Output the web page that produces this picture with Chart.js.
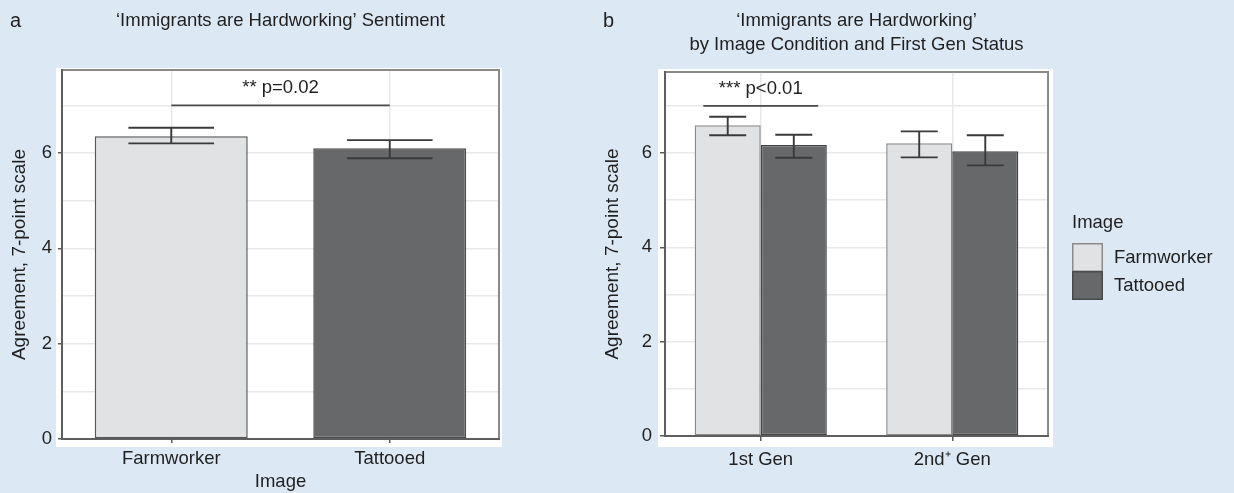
<!DOCTYPE html>
<html>
<head>
<meta charset="utf-8">
<script src="https://cdn.jsdelivr.net/npm/chart.js@4.4.1/dist/chart.umd.min.js"></script>
<style>
  html, body { margin: 0; padding: 0; background: #dde8f5; }
  body { width: 1234px; height: 493px; position: relative; overflow: hidden; }
  .panel { position: absolute; top: 0; height: 493px; }
  #wrapA { left: 0; width: 590px; }
  #wrapB { left: 590px; width: 644px; }
  canvas { display: block; }
</style>
</head>
<body>
<div class="panel" id="wrapA"><canvas id="chartA" width="590" height="493"></canvas></div>
<div class="panel" id="wrapB"><canvas id="chartB" width="644" height="493"></canvas></div>
<script>
// Panel a: overall sentiment by image
const imageCategories = ['Farmworker', 'Tattooed'];
const overallMeans = [6.35, 6.10];
const overallLow = [6.20, 5.89];
const overallHigh = [6.53, 6.27];

// Panel b: sentiment by image condition and generation
const genCategories = ['1st Gen', '2nd\u207A Gen'];
const farmworkerMeans = [6.59, 6.21];
const farmworkerLow = [6.38, 5.91];
const farmworkerHigh = [6.77, 6.46];
const tattooedMeans = [6.17, 6.04];
const tattooedLow = [5.90, 5.74];
const tattooedHigh = [6.39, 6.38];

// Labelled y ticks (the odd values only carry minor grid lines)
const yTickValues = [0, 2, 4, 6];

// Significance brackets: [from index, to index, bracket level, label]
const sigA = [0, 1, 7.0, '** p=0.02'];
const sigB = [-0.3, 0.3, 7.0, '*** p<0.01'];

const FONT = "'Liberation Sans', Arial, Helvetica, sans-serif";
const FS = 18.5;
const LIGHT = '#e1e2e4';
const DARK = '#67686a';
const TEXT = '#1f1f1f';

// White panel, frame, error bars, brackets, titles and legend
const decor = {
  id: 'decor',
  beforeDraw(chart, args, o) {
    const { ctx, chartArea: a } = chart;
    ctx.save();
    ctx.fillStyle = '#ffffff';
    ctx.fillRect(a.left - o.pad[0], a.top - o.pad[1], a.right - a.left + o.pad[0] + o.pad[2], a.bottom - a.top + o.pad[1] + o.pad[3]);
    ctx.restore();
  },
  afterDatasetsDraw(chart, args, o) {
    const { ctx } = chart;
    const y = chart.scales.y;
    ctx.save();
    ctx.strokeStyle = '#3a3a3a';
    ctx.lineWidth = 1.9;
    chart.data.datasets.forEach((ds, i) => {
      const meta = chart.getDatasetMeta(i);
      meta.data.forEach((bar, j) => {
        const hi = y.getPixelForValue(ds.errHigh[j]);
        const lo = y.getPixelForValue(ds.errLow[j]);
        const half = bar.width * 0.28;
        ctx.beginPath();
        ctx.moveTo(bar.x, hi); ctx.lineTo(bar.x, lo);
        ctx.moveTo(bar.x - half, hi); ctx.lineTo(bar.x + half, hi);
        ctx.moveTo(bar.x - half, lo); ctx.lineTo(bar.x + half, lo);
        ctx.stroke();
      });
    });
    ctx.restore();
  },
  afterDraw(chart, args, o) {
    const { ctx, chartArea: a } = chart;
    const x = chart.scales.x, y = chart.scales.y;
    ctx.save();
    // frame
    ctx.strokeStyle = '#8a8a8a';
    ctx.lineWidth = 2;
    ctx.strokeRect(a.left, a.top, a.right - a.left, a.bottom - a.top);
    ctx.strokeStyle = '#5e5e5e';
    ctx.beginPath();
    ctx.moveTo(a.left, a.top - 1); ctx.lineTo(a.left, a.bottom); ctx.lineTo(a.right + 1, a.bottom);
    ctx.stroke();

    // significance bracket
    const s = o.sig;
    const x0 = x.getPixelForValue(s[0]);
    const x1 = x.getPixelForValue(s[1]);
    const yl = y.getPixelForValue(s[2]);
    ctx.strokeStyle = '#4a4a4a';
    ctx.lineWidth = 1.8;
    ctx.beginPath();
    ctx.moveTo(x0, yl); ctx.lineTo(x1, yl);
    ctx.stroke();
    ctx.fillStyle = TEXT;
    ctx.font = FS + 'px ' + FONT;
    ctx.textAlign = 'center';
    ctx.textBaseline = 'middle';
    ctx.fillText(s[3], (x0 + x1) / 2, yl - 17);

    // titles
    const cx = (a.left + a.right) / 2;
    o.title.forEach((t, k) => ctx.fillText(t, cx, 21 + k * 24));
    ctx.font = '20px ' + FONT;
    ctx.textAlign = 'left';
    ctx.fillText(o.letter, o.letterX, 21);

    // legend
    if (o.legend) {
      const lx = a.right + 24;
      ctx.font = FS + 'px ' + FONT;
      ctx.fillStyle = TEXT;
      ctx.fillText('Image', lx, 223);
      const boxTop = [243, 271];
      chart.data.datasets.forEach((ds, i) => {
        ctx.fillStyle = ds.backgroundColor;
        ctx.fillRect(lx, boxTop[i], 31, 29);
        ctx.strokeStyle = i === 0 ? '#8a8a8a' : '#4a4a4a';
        ctx.lineWidth = 1.5;
        ctx.strokeRect(lx + 0.75, boxTop[i] + 0.75, 29.5, 27.5);
        ctx.fillStyle = TEXT;
        ctx.fillText(ds.label, lx + 42, boxTop[i] + 15);
      });
    }
    ctx.restore();
  }
};

function yScale(max, width, tickLen, pad, titlePad) {
  return {
    min: 0,
    max: max,
    afterFit(s) { s.width = width; },
    border: { display: false },
    grid: {
      color: '#e8e8e8',
      lineWidth: 1.5,
      tickLength: tickLen,
      tickColor: ctx => yTickValues.includes(ctx.tick.value) ? '#5a5a5a' : 'rgba(0,0,0,0)',
      tickWidth: 1.5
    },
    ticks: {
      stepSize: 1,
      includeBounds: false,
      padding: pad,
      color: TEXT,
      font: { family: FONT, size: FS },
      callback: v => yTickValues.includes(v) ? String(v) : ''
    },
    title: {
      display: true,
      text: 'Agreement, 7-point scale',
      color: TEXT,
      font: { family: FONT, size: 19 },
      padding: { top: titlePad, bottom: 0 }
    }
  };
}

function xScale(height, tickLen, pad, title) {
  return {
    afterFit(s) { s.height = height; },
    border: { display: false },
    grid: {
      offset: false,
      color: '#e8e8e8',
      lineWidth: 1.5,
      tickLength: tickLen,
      tickColor: '#5a5a5a',
      tickWidth: 1.5
    },
    ticks: {
      padding: pad,
      color: TEXT,
      font: { family: FONT, size: FS }
    },
    title: title ? {
      display: true,
      text: title,
      color: TEXT,
      font: { family: FONT, size: FS },
      padding: { top: 0, bottom: 0 }
    } : { display: false }
  };
}

new Chart(document.getElementById('chartA'), {
  type: 'bar',
  data: {
    labels: imageCategories,
    datasets: [{
      label: 'Image',
      data: overallMeans,
      errLow: overallLow,
      errHigh: overallHigh,
      backgroundColor: [LIGHT, DARK],
      borderColor: ['#555555', '#4a4a4a'],
      borderWidth: 1.5,
      borderSkipped: false,
      categoryPercentage: 1.0,
      barPercentage: 0.7
    }]
  },
  options: {
    responsive: false,
    animation: false,
    layout: { padding: { left: 0, top: 70, right: 91, bottom: 0 } },
    plugins: {
      legend: { display: false },
      tooltip: { enabled: false },
      decor: {
        pad: [6, 2, 3, 8],
        sig: sigA,
        title: ['\u2018Immigrants are Hardworking\u2019 Sentiment'],
        letter: 'a',
        letterX: 10,
        legend: false
      }
    },
    scales: {
      x: xScale(54, 4, 5, 'Image'),
      y: yScale(7.74, 62, 4, 6, 8)
    }
  },
  plugins: [decor]
});

new Chart(document.getElementById('chartB'), {
  type: 'bar',
  data: {
    labels: genCategories,
    datasets: [{
      label: 'Farmworker',
      data: farmworkerMeans,
      errLow: farmworkerLow,
      errHigh: farmworkerHigh,
      backgroundColor: LIGHT,
      borderColor: '#8a8a8a',
      borderWidth: 1.5,
      borderSkipped: false,
      categoryPercentage: 0.69,
      barPercentage: 1.0
    }, {
      label: 'Tattooed',
      data: tattooedMeans,
      errLow: tattooedLow,
      errHigh: tattooedHigh,
      backgroundColor: DARK,
      borderColor: '#444444',
      borderWidth: 1.5,
      borderSkipped: false,
      categoryPercentage: 0.69,
      barPercentage: 1.0
    }]
  },
  options: {
    responsive: false,
    animation: false,
    layout: { padding: { left: 0, top: 72, right: 186, bottom: 0 } },
    plugins: {
      legend: { display: false },
      tooltip: { enabled: false },
      decor: {
        pad: [7, 3, 5, 11],
        sig: sigB,
        title: ['\u2018Immigrants are Hardworking\u2019', 'by Image Condition and First Gen Status'],
        letter: 'b',
        letterX: 13,
        legend: true
      }
    },
    scales: {
      x: xScale(57, 5, 8, null),
      y: yScale(7.72, 75, 5, 8, 11)
    }
  },
  plugins: [decor]
});
</script>
</body>
</html>
